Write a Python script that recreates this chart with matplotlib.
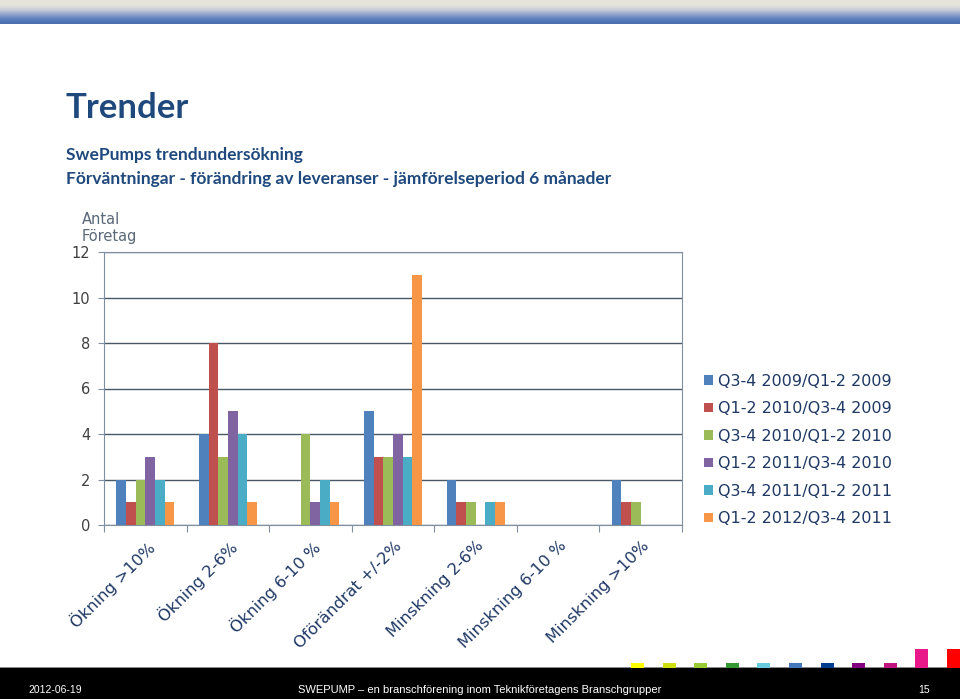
import matplotlib as mpl
mpl.use('Agg')
import matplotlib.pyplot as plt
import matplotlib.transforms as mtransforms
from matplotlib.patches import Rectangle
import numpy as np

categories = ['Ökning >10%', 'Ökning 2-6%', 'Ökning 6-10 %', 'Oförändrat +/-2%',
              'Minskning 2-6%', 'Minskning 6-10 %', 'Minskning >10%']
series_names = ['Q3-4 2009/Q1-2 2009', 'Q1-2 2010/Q3-4 2009', 'Q3-4 2010/Q1-2 2010',
                'Q1-2 2011/Q3-4 2010', 'Q3-4 2011/Q1-2 2011', 'Q1-2 2012/Q3-4 2011']
s1 = [2, 4, 0, 5, 2, 0, 2]
s2 = [1, 8, 0, 3, 1, 0, 1]
s3 = [2, 3, 4, 3, 1, 0, 1]
s4 = [3, 5, 1, 4, 0, 0, 0]
s5 = [2, 4, 2, 3, 1, 0, 0]
s6 = [1, 1, 1, 11, 1, 0, 0]
series = [s1, s2, s3, s4, s5, s6]
colors = ['#4F81BD', '#C0504D', '#9BBB59', '#8064A2', '#4BACC6', '#F79646']

navy = '#1F3864'
title_blue = '#1F497D'
footer_font = 'Liberation Sans'

fig = plt.figure(figsize=(9.6, 6.99), dpi=100)

# top gradient band
grad = np.linspace(0, 1, 64).reshape(-1, 1)
band = fig.add_axes([0, 1 - 24 / 699, 1, 24 / 699])
cmap = mpl.colors.LinearSegmentedColormap.from_list(
    'band', ['#E4E4DC', '#E6E6DE', '#C9CDD6', '#8FA3CB', '#5C7FBE', '#4A6DB0'])
band.imshow(grad, aspect='auto', cmap=cmap, extent=[0, 1, 0, 1])
band.axis('off')

# bottom black bar
fig.patches.append(Rectangle((0, 0), 1, 31 / 699, transform=fig.transFigure,
                             facecolor='black', edgecolor='none'))
fig.patches.append(Rectangle((0, 31 / 699), 1, 1 / 699, transform=fig.transFigure,
                             facecolor='#888888', edgecolor='none'))
deco = ['#FFFF00', '#CCE010', '#99CC33', '#339933', '#66CCDD', '#4477BB',
        '#003F8F', '#800080', '#C0157F', '#E8178A', '#FF0000']
for i, c in enumerate(deco):
    x0 = 631 + i * 31.6
    h = 19 if i >= 9 else 5
    fig.patches.append(Rectangle((x0 / 960, 31 / 699), 13 / 960, h / 699,
                                 transform=fig.transFigure, facecolor=c, edgecolor='none'))

fig.text(28 / 960, 9 / 699, '2012-06-19', color='white', fontsize=7.5,
         family=footer_font, va='center')
fig.text(480 / 960, 9 / 699, 'SWEPUMP – en branschförening inom Teknikföretagens Branschgrupper',
         color='white', fontsize=8, family=footer_font, ha='center', va='center')
fig.text(924 / 960, 9 / 699, '15', color='white', fontsize=7.5,
         family=footer_font, ha='center', va='center')

# titles
fig.text(66 / 960, 1 - 108 / 699, 'Trender', color=title_blue, fontsize=25,
         fontweight='bold', family='Lato', va='center')
fig.text(66 / 960, 1 - 155 / 699, 'SwePumps trendundersökning', color=title_blue,
         fontsize=12.5, fontweight='bold', family='Lato', va='center')
fig.text(66 / 960, 1 - 179 / 699,
         'Förväntningar - förändring av leveranser - jämförelseperiod 6 månader',
         color=title_blue, fontsize=12.5, fontweight='bold', family='Lato', va='center')
fig.text(82 / 960, 1 - 228 / 699, 'Antal\nFöretag', color='#5A6878', fontsize=10.5,
         va='center', linespacing=1.1)

ax = fig.add_axes([104 / 960, 1 - 525 / 699, 578 / 960, 273 / 699])
x = np.arange(len(categories))
w = 0.117
for k, (vals, c, name) in enumerate(zip(series, colors, series_names)):
    ax.bar(x + (k - 2.5) * w, vals, width=w, color=c, label=name, zorder=3)

ax.set_xlim(-0.5, len(categories) - 0.5)
ax.set_ylim(0, 12)
ax.set_yticks(range(0, 13, 2))
ax.yaxis.grid(True, color='#4A5866', linewidth=1.0, zorder=0)
ax.tick_params(axis='y', length=4, color='#8090A0', labelsize=10.5,
               labelcolor='#404040', pad=6)
ax.set_xticks(np.arange(-0.5, len(categories) + 0.5, 1))
ax.set_xticklabels([])
ax.set_xticks(x, minor=True)
ax.set_xticklabels(categories, minor=True, rotation=45, ha='right',
                   rotation_mode='anchor', color=navy, fontsize=11.7)
ax.tick_params(axis='x', which='major', length=5, color='#8090A0', direction='out')
ax.tick_params(axis='x', which='minor', length=0, pad=9.5)
offset = mtransforms.ScaledTranslation(0.5 / 72, 0, fig.dpi_scale_trans)
for lbl in ax.get_xticklabels(minor=True):
    lbl.set_transform(lbl.get_transform() + offset)
for s in ['top', 'right', 'left', 'bottom']:
    ax.spines[s].set_color('#8090A0')

ax.legend(loc='center left', bbox_to_anchor=(690 / 960, 1 - 450 / 699),
          bbox_transform=fig.transFigure, frameon=False, fontsize=11.5,
          handlelength=0.55, handleheight=0.55, handletextpad=0.3,
          labelspacing=0.78, labelcolor=navy)

plt.savefig('out.png', dpi=100)
